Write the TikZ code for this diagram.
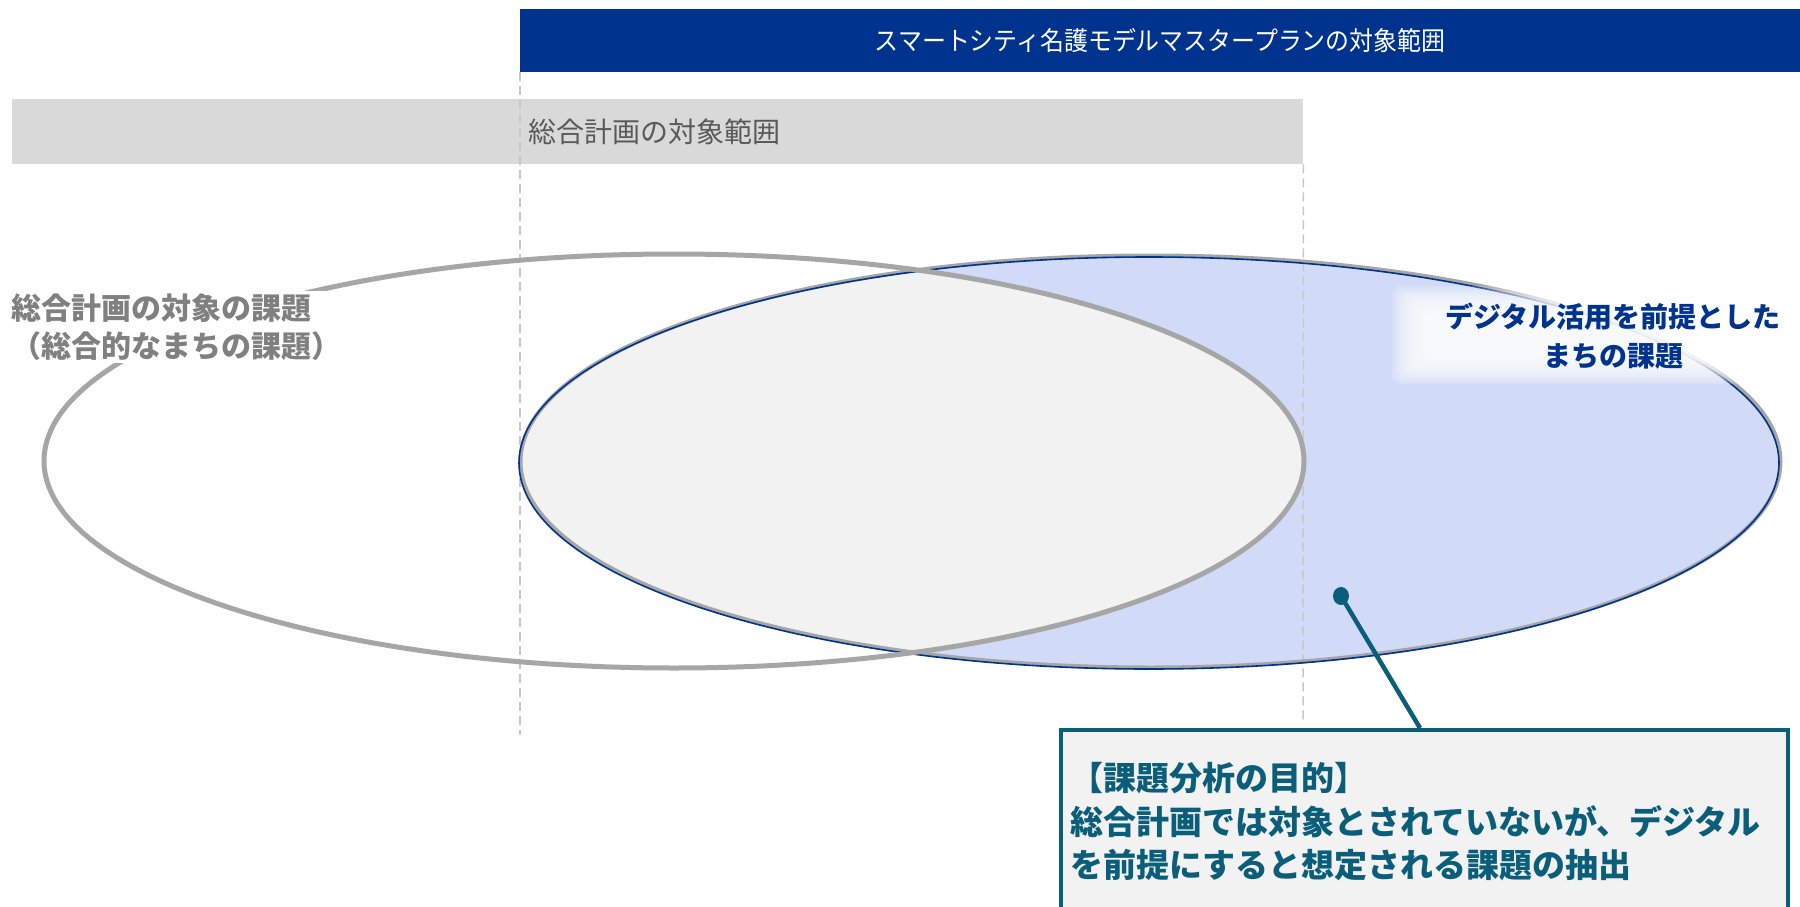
\documentclass[tikz,border=0pt]{standalone}
\usepackage{fontspec}
\setmainfont{Noto Sans CJK JP}
\newfontfamily\jpcond[FakeStretch=0.92]{Noto Sans CJK JP}
\definecolor{navy}{RGB}{0,51,141}
\definecolor{barGray}{RGB}{217,217,217}
\definecolor{lblGray}{RGB}{89,89,89}
\definecolor{ringGray}{RGB}{166,166,166}
\definecolor{txtGray}{RGB}{128,128,128}
\definecolor{lens}{RGB}{242,242,242}
\definecolor{lav}{RGB}{209,219,247}
\definecolor{teal}{RGB}{11,94,122}
\definecolor{dashGray}{RGB}{200,200,200}
\tikzset{
  topbar/.style={fill=navy, draw=none, minimum width=1280pt, minimum height=63pt, inner sep=0pt,
    text=white, font=\jpcond\fontsize{26}{30}\selectfont},
  graybar/.style={fill=barGray, draw=none, minimum width=1291pt, minimum height=65pt, inner sep=0pt},
  scopelabel/.style={text=lblGray, font=\fontsize{28}{34}\selectfont, inner sep=0pt},
  dashline/.style={draw=dashGray, line width=1.5pt, dash pattern=on 9pt off 5pt},
  ringline/.style={draw=ringGray, line width=5pt},
  sidelabel/.style={fill=white, text=txtGray, align=left, inner sep=3pt,
    font=\bfseries\fontsize{30}{38}\selectfont},
  bluelabel/.style={text=navy, align=center, inner sep=0pt,
    font=\bfseries\fontsize{28}{39}\selectfont},
  goalbox/.style={draw=teal, line width=4pt, fill=lens, minimum width=727pt, minimum height=200pt,
    inner sep=0pt},
  goaltext/.style={text=teal, align=left, inner sep=0pt,
    font=\bfseries\fontsize{33}{43.5}\selectfont},
  pointer/.style={draw=teal, line width=4.5pt}
}
\begin{document}
\begin{tikzpicture}[x=1pt,y=-1pt]
\clip (0,0) rectangle (1800,907);
\fill[white] (0,0) rectangle (1800,907);

% bars
\node[topbar, anchor=north west] (plan) at (520,9) {スマートシティ名護モデルマスタープランの対象範囲};
\node[graybar, anchor=north west] (gbar) at (12,99) {};
\node[scopelabel, anchor=west] (gbarlbl) at (528,132) {総合計画の対象範囲};

% blue ellipse fill
\fill[lav] (1149,463) ellipse [x radius=630pt, y radius=206pt];
% lens
\begin{scope}
  \clip (1149,463) ellipse [x radius=630pt, y radius=206pt];
  \fill[lens] (674,461) ellipse [x radius=630pt, y radius=207pt];
\end{scope}

% dashed guides
\coordinate (d1end) at (520,735);
\coordinate (d2end) at (1303,723);
\draw[dashline] (plan.south west) -- (d1end);
\draw[dashline] (gbar.south east) -- (d2end);

% blue ellipse outline
\draw[draw=ringGray, line width=4pt] (1150.5,461.5) ellipse [x radius=630pt, y radius=206pt];
\draw[draw=navy, line width=1.6pt] (1149,463) ellipse [x radius=630pt, y radius=206pt];
% gray ellipse outline
\draw[ringline] (674,461) ellipse [x radius=630pt, y radius=207pt];

% glow behind blue label
\foreach \i in {0,...,11}
  \fill[white, opacity=0.18, rounded corners=8pt] ({1392+3*\i},{286+2.5*\i}) rectangle ({1768-3*\i},{384-2.5*\i});

% labels
\node[sidelabel, anchor=west] (gplabel) at (8,327) {総合計画の対象の課題\\（総合的なまちの課題）};
\node[bluelabel] (dxlabel) at (1613,336) {デジタル活用を前提とした\\まちの課題};

% goal box and pointer
\node[goalbox, anchor=north west] (goal) at (1059,728) {};
\node[goaltext, anchor=west] (goaltxt) at (1070,822) {【課題分析の目的】\\総合計画では対象とされていないが、デジタル\\を前提にすると想定される課題の抽出};
\coordinate (dot) at (1341,596);
\coordinate (tip) at (1420,728);
\draw[pointer] (dot) -- (tip);
\fill[teal] (dot) ellipse [x radius=8pt, y radius=9pt];
\end{tikzpicture}
\end{document}
